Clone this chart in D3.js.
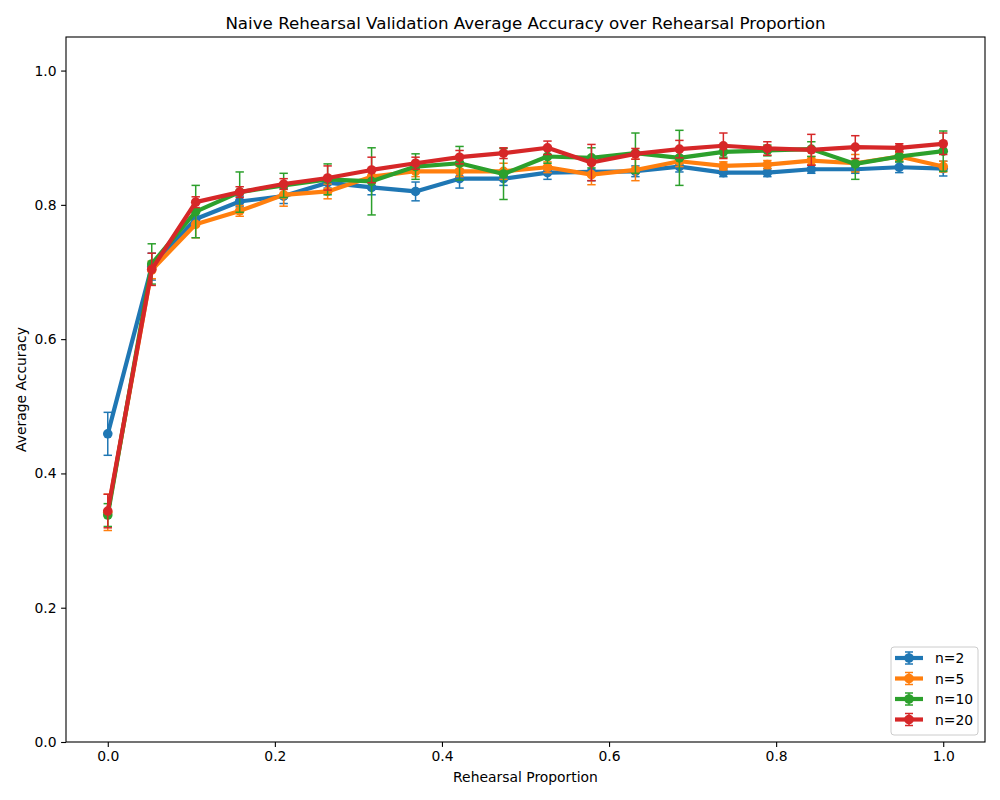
<!DOCTYPE html>
<html><head><meta charset="utf-8">
<script src="https://cdn.jsdelivr.net/npm/d3@7"></script>
<style>body{margin:0;background:#fff}svg{display:block}text{font-family:"DejaVu Sans",sans-serif}</style>
</head><body><svg id="c" width="1000" height="800"></svg>
<script>
const xValues = d3.range(20).map(i => i / 19);
const seriesNames = ["n=2", "n=5", "n=10", "n=20"];
const colors = ["#1f77b4", "#ff7f0e", "#2ca02c", "#d62728"];
const meanN2 = [0.459,0.708,0.779,0.805,0.813,0.833,0.826,0.820,0.839,0.839,0.848,0.849,0.850,0.857,0.848,0.848,0.853,0.853,0.856,0.854];
const errN2  = [0.032,0.020,0.010,0.008,0.011,0.008,0.011,0.014,0.014,0.010,0.010,0.013,0.008,0.008,0.006,0.006,0.006,0.006,0.008,0.011];
const meanN5 = [0.342,0.703,0.771,0.791,0.815,0.820,0.842,0.850,0.850,0.850,0.856,0.845,0.852,0.865,0.858,0.860,0.866,0.862,0.872,0.857];
const errN5  = [0.027,0.013,0.020,0.008,0.017,0.011,0.008,0.008,0.008,0.012,0.008,0.015,0.016,0.008,0.006,0.006,0.006,0.013,0.006,0.008];
const meanN10 = [0.338,0.712,0.790,0.819,0.829,0.838,0.835,0.857,0.862,0.846,0.872,0.870,0.877,0.870,0.879,0.881,0.883,0.861,0.872,0.880];
const errN10  = [0.017,0.030,0.039,0.030,0.018,0.023,0.050,0.019,0.025,0.038,0.010,0.015,0.030,0.041,0.008,0.008,0.011,0.023,0.008,0.030];
const meanN20 = [0.344,0.704,0.804,0.819,0.831,0.840,0.852,0.862,0.871,0.877,0.885,0.863,0.876,0.883,0.888,0.884,0.882,0.886,0.885,0.891];
const errN20  = [0.025,0.024,0.008,0.008,0.008,0.018,0.019,0.009,0.010,0.008,0.010,0.027,0.008,0.013,0.019,0.010,0.023,0.017,0.006,0.016];
const xTicks = [0, 0.2, 0.4, 0.6, 0.8, 1.0];
const yTicks = [0, 0.2, 0.4, 0.6, 0.8, 1.0];
const means = [meanN2, meanN5, meanN10, meanN20];
const errs = [errN2, errN5, errN10, errN20];

const L = 66, R = 985, T = 37, B = 742;
const svg = d3.select("#c");
const x = d3.scaleLinear().domain([-0.05, 1.05]).range([L, R]);
const y = d3.scaleLinear().domain([0, 1.05]).range([B, T]);

svg.append("text").attr("x", (L + R) / 2).attr("y", 29).attr("text-anchor", "middle")
  .attr("font-size", 16.7).text("Naive Rehearsal Validation Average Accuracy over Rehearsal Proportion");

const gx = svg.append("g").attr("transform", `translate(0,${B})`)
  .call(d3.axisBottom(x).tickValues(xTicks).tickFormat(d3.format(".1f")).tickSize(4.9).tickPadding(4.5));
const gy = svg.append("g").attr("transform", `translate(${L},0)`)
  .call(d3.axisLeft(y).tickValues(yTicks).tickFormat(d3.format(".1f")).tickSize(4.9).tickPadding(4.5));
[gx, gy].forEach(g => {
  g.select(".domain").remove();
  g.selectAll("text").attr("font-size", 13.9).attr("fill", "#000").style("font-family", "DejaVu Sans");
  g.selectAll("line").attr("stroke", "#000").attr("stroke-width", 1.1);
});

svg.append("text").attr("x", (L + R) / 2).attr("y", 782).attr("text-anchor", "middle")
  .attr("font-size", 13.9).text("Rehearsal Proportion");
svg.append("text").attr("transform", `translate(26,${(T + B) / 2}) rotate(-90)`).attr("text-anchor", "middle")
  .attr("font-size", 13.9).text("Average Accuracy");

const plot = svg.append("g");
const line = d3.line().x((d, i) => x(xValues[i])).y(d => y(d));
means.forEach((m, s) => {
  const g = plot.append("g");
  const c = colors[s];
  m.forEach((v, i) => {
    const px = x(xValues[i]), e = errs[s][i];
    g.append("line").attr("x1", px).attr("x2", px).attr("y1", y(v - e)).attr("y2", y(v + e))
      .attr("stroke", c).attr("stroke-width", 1.5);
    [v - e, v + e].forEach(w => g.append("line").attr("x1", px - 4.2).attr("x2", px + 4.2)
      .attr("y1", y(w)).attr("y2", y(w)).attr("stroke", c).attr("stroke-width", 1.5));
  });
  g.append("path").attr("d", line(m)).attr("fill", "none").attr("stroke", c)
    .attr("stroke-width", 4.2).attr("stroke-linejoin", "round").attr("stroke-linecap", "square");
  m.forEach((v, i) => g.append("circle").attr("cx", x(xValues[i])).attr("cy", y(v)).attr("r", 4.8).attr("fill", c));
});

svg.append("rect").attr("x", L).attr("y", T).attr("width", R - L).attr("height", B - T)
  .attr("fill", "none").attr("stroke", "#000").attr("stroke-width", 1.1);

// legend
const lg = svg.append("g");
lg.append("rect").attr("x", 891).attr("y", 647).attr("width", 87).attr("height", 88).attr("rx", 3)
  .attr("fill", "#fff").attr("fill-opacity", 0.8).attr("stroke", "#ccc");
seriesNames.forEach((n, s) => {
  const cy = 658 + s * 20.5, c = colors[s];
  lg.append("line").attr("x1", 895).attr("x2", 923).attr("y1", cy).attr("y2", cy).attr("stroke", c).attr("stroke-width", 4.2);
  lg.append("line").attr("x1", 909).attr("x2", 909).attr("y1", cy - 6).attr("y2", cy + 6).attr("stroke", c).attr("stroke-width", 1.5);
  [cy - 6, cy + 6].forEach(w => lg.append("line").attr("x1", 905).attr("x2", 913).attr("y1", w).attr("y2", w).attr("stroke", c).attr("stroke-width", 1.5));
  lg.append("circle").attr("cx", 909).attr("cy", cy).attr("r", 4.8).attr("fill", c);
  lg.append("text").attr("x", 935).attr("y", cy + 5).attr("font-size", 13.9).text(n);
});
</script></body></html>
